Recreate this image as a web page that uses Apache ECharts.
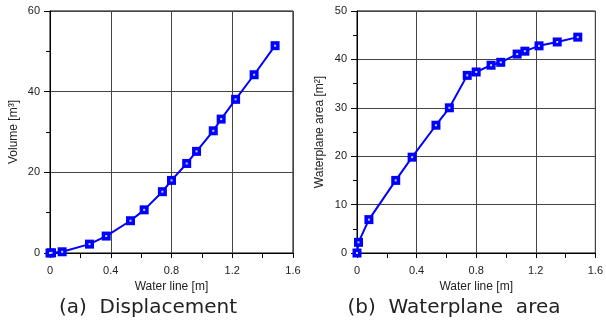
<!DOCTYPE html>
<html>
<head>
<meta charset="utf-8">
<script src="https://cdn.jsdelivr.net/npm/echarts@6/dist/echarts.min.js"></script>
<style>
  html, body { margin: 0; padding: 0; background: #fff; }
  #chart { width: 606px; height: 333px; }
</style>
</head>
<body>
<div id="chart"></div>
<script>
// values
const waterLine = [0, 0.01, 0.08, 0.26, 0.37, 0.53, 0.62, 0.74, 0.80, 0.90, 0.965, 1.075, 1.127, 1.222, 1.344, 1.482]
const volume = [0, 0.05, 0.3, 2.2, 4.2, 8.0, 10.7, 15.2, 18.0, 22.2, 25.2, 30.3, 33.2, 38.1, 44.2, 51.4]
const area = [0, 2.2, 6.9, 15.0, 19.8, 26.4, 30.0, 36.7, 37.4, 38.8, 39.4, 41.1, 41.7, 42.8, 43.6, 44.6]
const captions = ['(a)  Displacement', '(b)  Waterplane  area']

const chart = echarts.init(document.getElementById('chart'))

const textColor = '#222'
const gridColor = '#444'
const lineColor = '#0000ff'
const axisFont = "'Liberation Sans', Arial, sans-serif"
const captionFont = "'DejaVu Sans', sans-serif"

function pairs(ys) {
  return waterLine.map((x, i) => [x, ys[i]])
}

function xAxisFor(gridIndex) {
  return {
    gridIndex: gridIndex,
    type: 'value',
    min: 0,
    max: 1.6,
    interval: 0.4,
    name: 'Water line [m]',
    nameLocation: 'middle',
    nameGap: 26,
    nameTextStyle: { color: textColor, fontSize: 12, fontFamily: axisFont },
    axisLine: { show: true, lineStyle: { color: '#000', width: 1 } },
    axisTick: { show: true, length: 5, lineStyle: { color: '#000' } },
    minorTick: { show: true, splitNumber: 2, length: 5, lineStyle: { color: '#000' } },
    axisLabel: {
      color: textColor,
      fontSize: 11,
      fontFamily: axisFont,
      margin: 12,
      formatter: v => (v === 0 ? '0' : v.toFixed(1))
    },
    splitLine: { show: true, lineStyle: { color: gridColor, width: 1 } }
  }
}

function yAxisFor(gridIndex, name, max, interval, gap) {
  return {
    gridIndex: gridIndex,
    type: 'value',
    min: 0,
    max: max,
    interval: interval,
    name: name,
    nameLocation: 'middle',
    nameGap: gap,
    nameTextStyle: { color: textColor, fontSize: 12, fontFamily: axisFont },
    axisLine: { show: true, lineStyle: { color: '#000', width: 1 } },
    axisTick: { show: true, length: 6, lineStyle: { color: '#000' } },
    minorTick: { show: true, splitNumber: 2, length: 4, lineStyle: { color: '#000' } },
    axisLabel: { color: textColor, fontSize: 11, fontFamily: axisFont, margin: 10 },
    splitLine: { show: true, lineStyle: { color: gridColor, width: 1 } }
  }
}

function seriesFor(index, ys) {
  return [
    {
      type: 'line',
      xAxisIndex: index,
      yAxisIndex: index,
      data: pairs(ys),
      symbol: 'rect',
      symbolSize: 9,
      lineStyle: { color: lineColor, width: 2 },
      itemStyle: { color: lineColor },
      animation: false
    },
    {
      // small white dot in the middle of each marker
      type: 'scatter',
      xAxisIndex: index,
      yAxisIndex: index,
      data: pairs(ys),
      symbol: 'rect',
      symbolSize: 2,
      itemStyle: { color: '#fff' },
      z: 5,
      animation: false
    }
  ]
}

const option = {
  backgroundColor: '#fff',
  grid: [
    { left: 50, top: 11, width: 243, height: 242, show: true, borderColor: '#000', borderWidth: 1, backgroundColor: 'transparent' },
    { left: 357, top: 11, width: 241, height: 242, show: true, borderColor: '#000', borderWidth: 1, backgroundColor: 'transparent' }
  ],
  xAxis: [xAxisFor(0), xAxisFor(1)],
  yAxis: [
    yAxisFor(0, 'Volume [m³]', 60, 20, 30),
    yAxisFor(1, 'Waterplane area [m²]', 50, 10, 31)
  ],
  series: [...seriesFor(0, volume), ...seriesFor(1, area)],
  graphic: [
    {
      type: 'text',
      x: 148,
      y: 308,
      style: { text: captions[0], fill: '#222', fontSize: 20, fontFamily: captionFont, align: 'center', verticalAlign: 'middle' }
    },
    {
      type: 'text',
      x: 454,
      y: 308,
      style: { text: captions[1], fill: '#222', fontSize: 20, fontFamily: captionFont, align: 'center', verticalAlign: 'middle' }
    }
  ]
}

chart.setOption(option)
</script>
</body>
</html>
